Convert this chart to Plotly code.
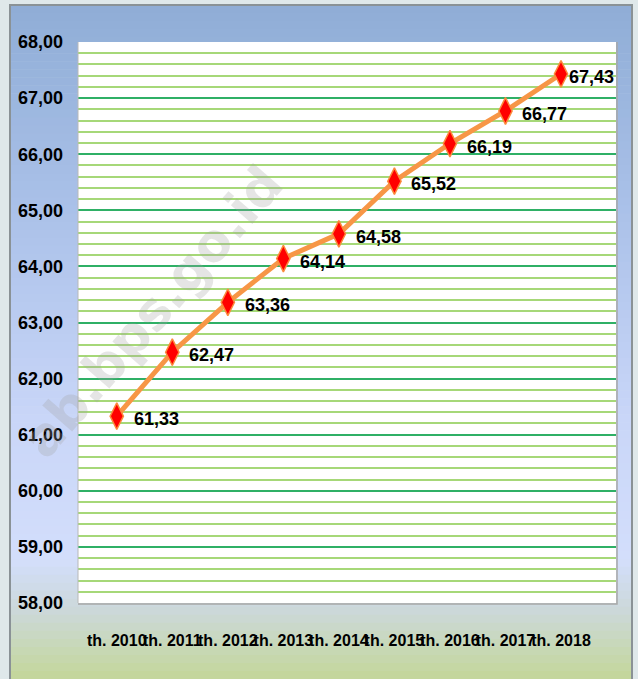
import plotly.graph_objects as go

years = ["th. 2010", "th. 2011", "th. 2012", "th. 2013", "th. 2014",
         "th. 2015", "th. 2016", "th. 2017", "th. 2018"]
values = [61.33, 62.47, 63.36, 64.14, 64.58, 65.52, 66.19, 66.77, 67.43]
label_shift = [15, 15, 15, 15, 15, 15, 15, 15, 6]

W, H = 638, 679
L, R, T, B = 78, 616, 42, 603
FONT = "Liberation Sans, Arial, sans-serif"


def px(x):
    return (x - L) / (R - L)


def py(y):
    return (B - y) / (B - T)


def hex2rgb(h):
    h = h.lstrip("#")
    return [int(h[i:i + 2], 16) for i in (0, 2, 4)]


stops = [(5, "#8fadd6"), (200, "#a9c0e8"), (420, "#c9d6f8"), (560, "#d3defb"),
         (615, "#cbd8d6"), (650, "#c7d8b4"), (679, "#c4d699")]


def color_at(y):
    for (y0, c0), (y1, c1) in zip(stops[:-1], stops[1:]):
        if y0 <= y <= y1:
            t = (y - y0) / (y1 - y0)
            a, b = hex2rgb(c0), hex2rgb(c1)
            return "rgb(%d,%d,%d)" % tuple(round(a[i] + (b[i] - a[i]) * t) for i in range(3))
    return stops[-1][1]


shapes = []
PX0, PX1, PY0 = 10, 632, 5
n = 84
step = (H - PY0) / n
for i in range(n):
    y0 = PY0 + i * step
    y1 = y0 + step + 0.6
    shapes.append(dict(type="rect", xref="paper", yref="paper", layer="below",
                       x0=px(PX0), x1=px(PX1), y0=py(y1), y1=py(y0),
                       fillcolor=color_at(y0 + step / 2), line=dict(width=0)))
# plot area white
shapes.append(dict(type="rect", xref="paper", yref="paper", layer="below",
                   x0=0, x1=1, y0=0, y1=1, fillcolor="white",
                   line=dict(width=0)))
# panel border
shapes.append(dict(type="path", xref="paper", yref="paper", layer="above",
                   path="M %f %f L %f %f L %f %f L %f %f" % (
                       px(PX0), py(H + 2), px(PX0), py(PY0), px(PX1), py(PY0), px(PX1), py(H + 2)),
                   line=dict(color="#8a9296", width=2)))
# plot-area shadow
shapes.append(dict(type="path", xref="paper", yref="paper", layer="above",
                   path="M %f %f L %f %f L %f %f" % (px(L), py(B + 1), px(R + 1), py(B + 1), px(R + 1), py(T)),
                   line=dict(color="#a8a8a8", width=1.5)))
shapes.append(dict(type="line", xref="paper", yref="paper", layer="above",
                   x0=0, x1=0, y0=0, y1=1, line=dict(color="#b8b8b8", width=1)))

fig = go.Figure()
fig.add_trace(go.Scatter(
    x=years, y=values, mode="lines+markers",
    line=dict(color="#f79646", width=5),
    marker=dict(symbol="diamond-tall", size=19, color="#ff0000",
                line=dict(color="#fb8a3c", width=1.5)),
    cliponaxis=False, hoverinfo="skip"))

annotations = []
for yr, v, s in zip(years, values, label_shift):
    annotations.append(dict(x=yr, y=v, xref="x", yref="y", text=f"{v:.2f}".replace(".", ","),
                            showarrow=False, xanchor="left", yanchor="middle",
                            xshift=s, yshift=-3,
                            font=dict(family=FONT, size=18, color="black", weight="bold")))
annotations.append(dict(x=px(152), y=py(312), xref="paper", yref="paper",
                        xanchor="center", yanchor="middle",
                        text="ab.bps.go.id", showarrow=False, textangle=-49,
                        font=dict(family="DejaVu Sans, sans-serif", size=52,
                                  color="rgba(160,160,160,0.28)", weight="bold")))

fig.update_layout(
    width=W, height=H,
    margin=dict(l=L, r=W - R, t=T, b=H - B),
    paper_bgcolor="#dfe8ea", plot_bgcolor="rgba(0,0,0,0)",
    separators=",.",
    showlegend=False,
    shapes=shapes, annotations=annotations,
    font=dict(family=FONT, size=18, color="black"),
    xaxis=dict(type="category", showgrid=False, zeroline=False, showline=False,
               ticks="", ticklabelstandoff=26, tickangle=0, automargin=False,
               tickfont=dict(family=FONT, size=16, color="black", weight="bold")),
    yaxis=dict(range=[58, 68], dtick=1, tickformat=".2f", showgrid=True,
               gridcolor="#2fb066", gridwidth=2, zeroline=False, showline=False,
               ticks="", ticklabelstandoff=14, automargin=False,
               tickfont=dict(family=FONT, size=18, color="black", weight="bold")),
)
fig.update_yaxes(minor=dict(dtick=0.2, showgrid=True, gridcolor="#a6d878", gridwidth=2))

fig.write_html("out.html", config={"displayModeBar": False},
               post_script="document.body.style.margin='0px';document.body.style.overflow='hidden';")
